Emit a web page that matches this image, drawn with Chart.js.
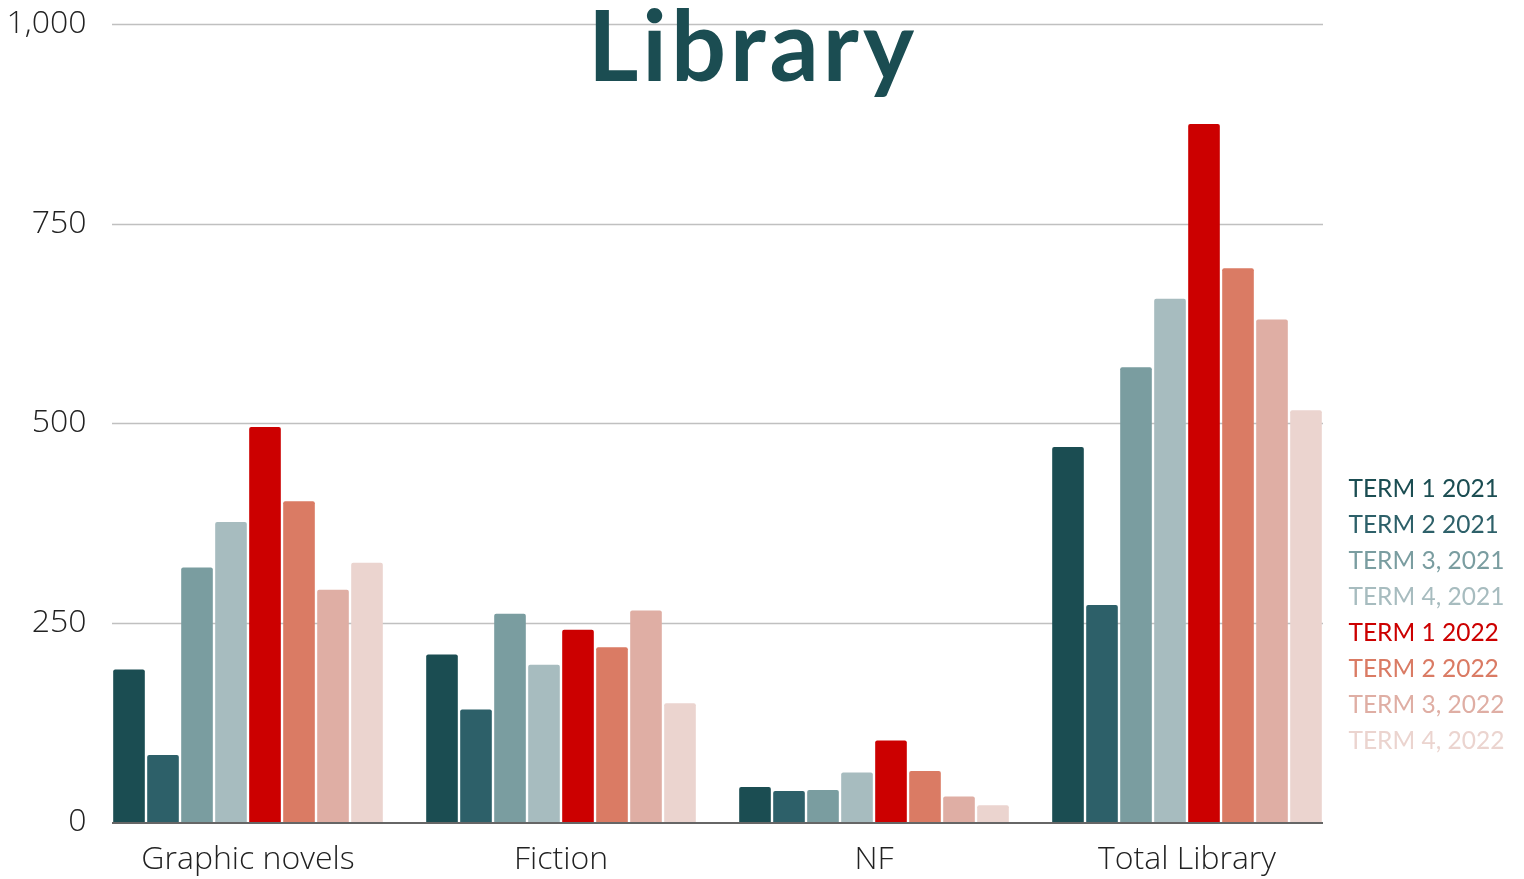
<!DOCTYPE html>
<html>
<head>
<meta charset="utf-8">
<script src="https://cdn.jsdelivr.net/npm/chart.js@4/dist/chart.umd.min.js"></script>
<style>
html,body{margin:0;padding:0;background:#fff;}
#wrap{width:1524px;height:879px;position:relative;}
</style>
</head>
<body>
<div id="wrap"><canvas id="c" width="1524" height="879"></canvas></div>
<script>
const categories = ["Graphic novels", "Fiction", "NF", "Total Library"];
const seriesNames = ["TERM 1 2021", "TERM 2 2021", "TERM 3, 2021", "TERM 4, 2021", "TERM 1 2022", "TERM 2 2022", "TERM 3, 2022", "TERM 4, 2022"];
const term1_2021 = [191, 210, 44, 470];
const term2_2021 = [84, 141, 39, 272];
const term3_2021 = [319, 261, 40, 570];
const term4_2021 = [376, 197, 62, 656];
const term1_2022 = [495, 241, 102, 875];
const term2_2022 = [402, 219, 64, 694];
const term3_2022 = [291, 265, 32, 630];
const term4_2022 = [325, 149, 21, 516];
const yTicks = [0, 250, 500, 750, 1000];
const colors = ["#1b4d52", "#2d6069", "#7a9da0", "#a7bcbf", "#cc0000", "#da7b64", "#dfaea4", "#ebd4cf"];

const seriesValues = [term1_2021, term2_2021, term3_2021, term4_2021, term1_2022, term2_2022, term3_2022, term4_2022];
const CAT_PCT = 272 / 313;

const datasets = seriesNames.map((name, i) => ({
  label: name,
  data: seriesValues[i],
  backgroundColor: colors[i],
  borderRadius: 2,
  borderSkipped: 'bottom',
  categoryPercentage: CAT_PCT,
  barPercentage: 0.93
}));

const decorPlugin = {
  id: 'decor',
  beforeDatasetsDraw(chart) {
    const ctx = chart.ctx, ca = chart.chartArea, y = chart.scales.y;
    const step = (ca.right - ca.left) / categories.length;
    const inset = step * (1 - CAT_PCT) / 2;
    ctx.save();
    ctx.strokeStyle = '#c0c0c0';
    ctx.lineWidth = 1.5;
    yTicks.forEach(v => {
      if (v === 0) return;
      const py = Math.round(y.getPixelForValue(v)) + 0.5;
      ctx.beginPath();
      ctx.moveTo(ca.left + inset, py);
      ctx.lineTo(ca.right - inset, py);
      ctx.stroke();
    });
    ctx.restore();
  },
  afterDatasetsDraw(chart) {
    const ctx = chart.ctx, ca = chart.chartArea, y = chart.scales.y;
    const step = (ca.right - ca.left) / categories.length;
    const inset = step * (1 - CAT_PCT) / 2;
    ctx.save();
    ctx.strokeStyle = '#666666';
    ctx.lineWidth = 2;
    const py = Math.round(y.getPixelForValue(0)) + 1;
    ctx.beginPath();
    ctx.moveTo(ca.left + inset, py);
    ctx.lineTo(ca.right - inset, py);
    ctx.stroke();
    // title
    ctx.fillStyle = '#1b4d52';
    ctx.font = 'bold 97px Lato';
    ctx.letterSpacing = '4px';
    ctx.textAlign = 'center';
    ctx.textBaseline = 'alphabetic';
    ctx.fillText('Library', 753, 81);
    ctx.letterSpacing = '0px';
    // legend
    ctx.font = '24.5px Lato';
    ctx.textAlign = 'left';
    ctx.textBaseline = 'middle';
    seriesNames.forEach((n, i) => {
      ctx.fillStyle = colors[i];
      ctx.fillText(n, ca.right + 5, 489 + i * 36);
    });
    ctx.restore();
  }
};

new Chart(document.getElementById('c'), {
  type: 'bar',
  data: { labels: categories, datasets },
  options: {
    responsive: false,
    animation: false,
    layout: { padding: { top: 21, right: 180.5, left: 0, bottom: 0 } },
    plugins: { legend: { display: false }, title: { display: false }, tooltip: { enabled: false } },
    scales: {
      x: {
        grid: { display: false, drawTicks: false },
        border: { display: false },
        ticks: { font: { family: 'Open Sans', size: 32, weight: 300 }, color: '#222', padding: 19, maxRotation: 0 },
        afterFit(s) { s.height = 57; }
      },
      y: {
        min: 0, max: 1000,
        afterBuildTicks(s) { s.ticks = yTicks.map(v => ({ value: v })); },
        grid: { display: false, drawTicks: false },
        border: { display: false },
        ticks: {
          font: { family: 'Open Sans', size: 32, weight: 300 }, color: '#222', padding: 5,
          callback: v => v.toLocaleString('en-US')
        },
        afterFit(s) { s.width = 91.5; }
      }
    }
  },
  plugins: [decorPlugin]
});
</script>
</body>
</html>
